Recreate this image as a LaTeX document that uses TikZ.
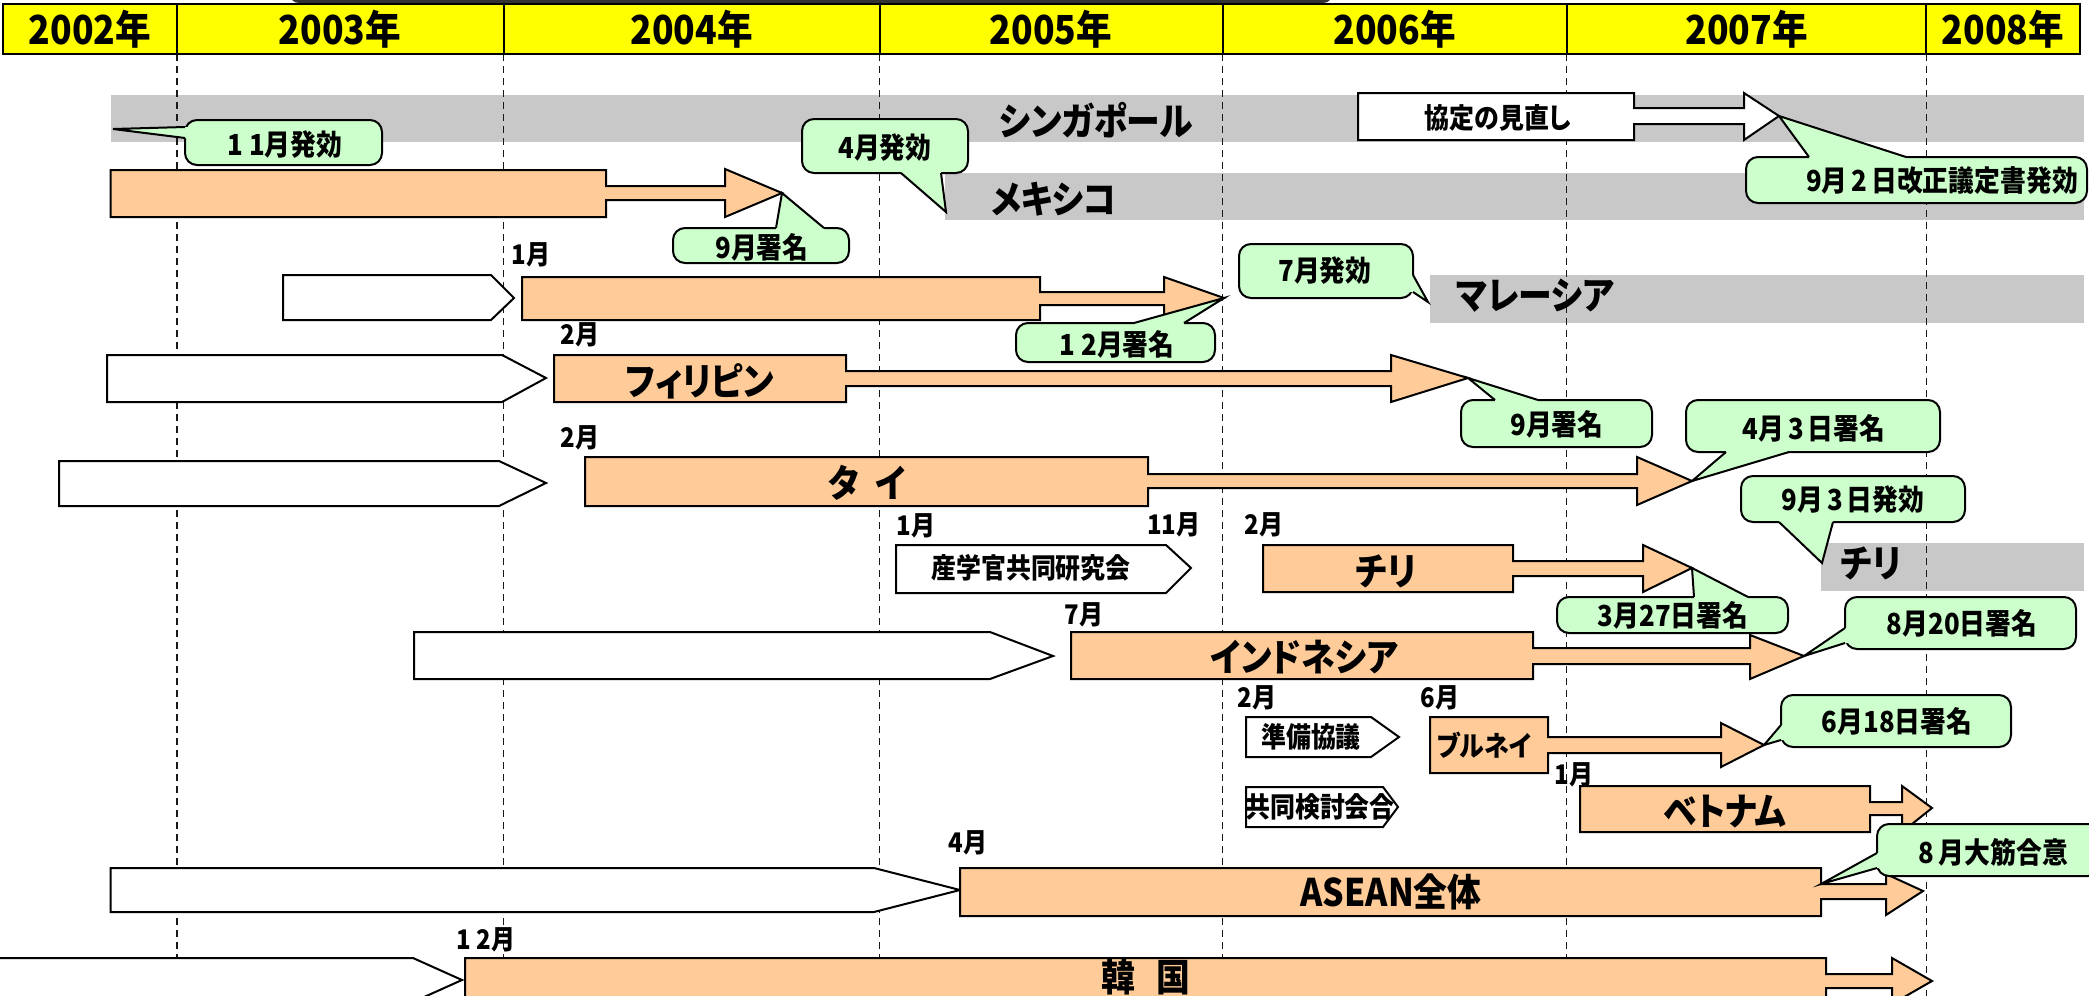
\documentclass[tikz,border=0pt]{standalone}
\usepackage{fontspec}
\setmainfont{Noto Sans CJK JP}[RawFeature=+palt, FakeStretch=0.89]
\definecolor{orng}{HTML}{FFCC99}
\definecolor{cgrn}{HTML}{CCFFCC}
\definecolor{bandgray}{HTML}{C8C8C8}
\definecolor{hdryel}{HTML}{FFFF00}
\tikzset{
  band/.style={fill=bandgray},
  vline/.style={line width=1.6pt, dash pattern=on 7pt off 5pt, black!90},
  oarr/.style={fill=orng, draw=black, line width=2pt, line join=miter},
  warr/.style={fill=white, draw=black, line width=2pt, line join=miter},
  cbox/.style={fill=cgrn, draw=black, line width=2pt, rounded corners=12pt},
  cfil/.style={fill=cgrn},
  cline/.style={draw=black, line width=2pt, line join=miter},
  ttl/.style={font=\fontsize{38}{40}\selectfont\bfseries, inner sep=0pt},
  yr/.style={font=\fontsize{40}{42}\selectfont\bfseries, inner sep=0pt},
  mon/.style={font=\fontsize{27}{29}\selectfont\bfseries, inner sep=0pt},
  ctxt/.style={font=\fontsize{29}{31}\selectfont\bfseries, inner sep=0pt},
  stxt/.style={font=\fontsize{28}{30}\selectfont\bfseries, inner sep=0pt},
}
\begin{document}
\begin{tikzpicture}[x=1pt,y=-1pt]
\useasboundingbox (0,0) rectangle (2089,996);
\fill[white] (0,0) rectangle (2089,996);
% gray bands
\fill[band] (110.5,95) rectangle (2084,142);
\fill[band] (945,173) rectangle (2084,220);
\fill[band] (1430,275) rectangle (2084,323);
\fill[band] (1821,543) rectangle (2084,591);
% dashed year lines
\foreach \xx in {177,503.6,879.5,1222.6,1566.5,1926.4}
  \draw[vline] (\xx,54) -- (\xx,996);
% band titles
\node[ttl] (sgp) at (1096,120) {シンガポール};
\node[ttl] (mex) at (1054,199) {メキシコ};
\node[ttl] (mys) at (1535,296) {マレーシア};
\node[ttl] (chl2) at (1871,563) {チリ};
% white pentagons
\draw[warr] (283,275) -- (491,275) -- (514,298) -- (491,320) -- (283,320) -- cycle;
\draw[warr] (107,355) -- (502,355) -- (546,378) -- (502,402) -- (107,402) -- cycle;
\draw[warr] (59,461) -- (499,461) -- (546,483) -- (499,506) -- (59,506) -- cycle;
\draw[warr] (896,545) -- (1166,545) -- (1191,568) -- (1166,593) -- (896,593) -- cycle;
\draw[warr] (414,632) -- (990,632) -- (1053,656) -- (990,679) -- (414,679) -- cycle;
\draw[warr] (1246,717) -- (1371,717) -- (1399,737) -- (1371,757) -- (1246,757) -- cycle;
\draw[warr] (1246,787) -- (1383,787) -- (1398,807) -- (1383,827) -- (1246,827) -- cycle;
\draw[warr] (110.5,868) -- (874,868) -- (960,890) -- (874,912) -- (110.5,912) -- cycle;
\draw[warr] (-10,958) -- (413,958) -- (462,980) -- (413,1002) -- (-10,1002) -- cycle;
% white block arrow (Singapore review)
\draw[warr] (1358,93) -- (1634,93) -- (1634,108) -- (1744,108) -- (1744,93) -- (1779,116) coordinate (sinTip) -- (1744,140) -- (1744,124) -- (1634,124) -- (1634,140) -- (1358,140) -- cycle;
% orange block arrows
\draw[oarr] (110.5,170) -- (606,170) -- (606,186) -- (725,186) -- (725,169) -- (782,193) coordinate (mexTip) -- (725,217) -- (725,200) -- (606,200) -- (606,217) -- (110.5,217) -- cycle;
\draw[oarr] (522,277) -- (1040,277) -- (1040,292) -- (1164,292) -- (1164,277) -- (1224,298) coordinate (malTip) -- (1164,322) -- (1164,305) -- (1040,305) -- (1040,320) -- (522,320) -- cycle;
\draw[oarr] (554,355) -- (846,355) -- (846,371) -- (1391,371) -- (1391,355) -- (1468,378) coordinate (phiTip) -- (1391,402) -- (1391,386) -- (846,386) -- (846,402) -- (554,402) -- cycle;
\draw[oarr] (585,457) -- (1148,457) -- (1148,474) -- (1637,474) -- (1637,457) -- (1692,481) coordinate (thaTip) -- (1637,505) -- (1637,488) -- (1148,488) -- (1148,506) -- (585,506) -- cycle;
\draw[oarr] (1263,545) -- (1513,545) -- (1513,561) -- (1643,561) -- (1643,545) -- (1692,568) coordinate (chiTip) -- (1643,592) -- (1643,576) -- (1513,576) -- (1513,592) -- (1263,592) -- cycle;
\draw[oarr] (1071,632) -- (1533,632) -- (1533,648) -- (1750,648) -- (1750,635) -- (1804,656) coordinate (indTip) -- (1750,679) -- (1750,664) -- (1533,664) -- (1533,679) -- (1071,679) -- cycle;
\draw[oarr] (1430,717) -- (1548,717) -- (1548,737) -- (1721,737) -- (1721,723) -- (1764,745) coordinate (bruTip) -- (1721,767) -- (1721,753) -- (1548,753) -- (1548,773) -- (1430,773) -- cycle;
\draw[oarr] (1580,786) -- (1870,786) -- (1870,802) -- (1902,802) -- (1902,786) -- (1932,808) coordinate (vieTip) -- (1902,832) -- (1902,815) -- (1870,815) -- (1870,832) -- (1580,832) -- cycle;
\draw[oarr] (960,868) -- (1821,868) -- (1821,884) coordinate (aseCorner) -- (1886,884) -- (1886,874) -- (1923,891) coordinate (aseTip) -- (1886,915) -- (1886,899) -- (1821,899) -- (1821,916) -- (960,916) -- cycle;
\draw[oarr] (465,958) -- (1826,958) -- (1826,974) -- (1892,974) -- (1892,958) -- (1932,981) coordinate (korTip) -- (1892,1004) -- (1892,988) -- (1826,988) -- (1826,1010) -- (465,1010) -- cycle;
% texts in arrows
\node[stxt] (rev) at (1498,118) {協定の見直し};
\node[ttl] (phl) at (700,381) {フィリピン};
\node[ttl] (tha) at (867,483) {タ\hspace{16pt}イ};
\node[stxt] (iag) at (1031,568) {産学官共同研究会};
\node[ttl] (chl) at (1386,571) {チリ};
\node[ttl] (idn) at (1304,657) {インドネシア};
\node[stxt] (prep) at (1311,737) {準備協議};
\node[stxt] (joint) at (1320,807) {共同検討会合};
\node[stxt] (brn) at (1484,745) {ブルネイ};
\node[ttl] (vnm) at (1725,812) {ベトナム};
\node[ttl] (asean) at (1391,892) {ASEAN全体};
\node[ttl] (kor) at (1146,977) {韓\hspace{22pt}国};
% callouts
% C1
\draw[cbox] (185,120) rectangle (382,165);
\fill[cfil] (189,127) -- (185,127) -- (113,129) -- (185,138) -- (189,138) -- cycle;
\draw[cline] (185,127) -- (113,129) -- (185,138);
\node[ctxt] (c1) at (285,145) {1\kern6pt 1月発効};
% C2
\draw[cbox] (802,119) rectangle (968,173);
\fill[cfil] (901,169) -- (901,173) -- (946,212) -- (941,173) -- (941,169) -- cycle;
\draw[cline] (901,173) -- (946,212) -- (941,173);
\node[ctxt] (c2) at (885,148) {4月発効};
% C3
\draw[cbox] (673,228) rectangle (849,263);
\fill[cfil] (776,232) -- (776,228) -- (mexTip) -- (824,228) -- (824,232) -- cycle;
\draw[cline] (776,228) -- (mexTip) -- (824,228);
\node[ctxt] (c3) at (762,247) {9月署名};
% C4
\draw[cbox] (1016,323) rectangle (1215,362);
\fill[cfil] (1134,327) -- (1134,323) -- (malTip) -- (1184,323) -- (1184,327) -- cycle;
\draw[cline] (1134,323) -- (malTip) -- (1184,323);
\node[ctxt] (c4) at (1117,344) {1\kern6pt 2月署名};
% C5
\draw[cbox] (1239,244) rectangle (1413,298);
\fill[cfil] (1409,275) -- (1413,275) -- (1428,302) -- (1413,292) -- (1409,292) -- cycle;
\draw[cline] (1413,275) -- (1428,302) -- (1413,292);
\node[ctxt] (c5) at (1325,271) {7月発効};
% C6
\draw[cbox] (1461,400) rectangle (1652,447);
\fill[cfil] (1495,404) -- (1495,400) -- (phiTip) -- (1538,400) -- (1538,404) -- cycle;
\draw[cline] (1495,400) -- (phiTip) -- (1538,400);
\node[ctxt] (c6) at (1557,424) {9月署名};
% C7
\draw[cbox] (1686,400) rectangle (1940,452);
\fill[cfil] (1726,448) -- (1726,452) -- (thaTip) -- (1789,452) -- (1789,448) -- cycle;
\draw[cline] (1726,452) -- (thaTip) -- (1789,452);
\node[ctxt] (c7) at (1814,428) {4月\kern4pt 3\kern4pt 日署名};
% C8
\draw[cbox] (1741,476) rectangle (1965,522);
\fill[cfil] (1779,518) -- (1779,522) -- (1822,563) -- (1833,522) -- (1833,518) -- cycle;
\draw[cline] (1779,522) -- (1822,563) -- (1833,522);
\node[ctxt] (c8) at (1853,500) {9月\kern4pt 3\kern4pt 日発効};
% C9
\draw[cbox] (1557,597) rectangle (1788,633);
\fill[cfil] (1694,601) -- (1694,597) -- (chiTip) -- (1748,597) -- (1748,601) -- cycle;
\draw[cline] (1694,597) -- (chiTip) -- (1748,597);
\node[ctxt] (c9) at (1673,615) {3月27日署名};
% C10
\draw[cbox] (1845,597) rectangle (2076,649);
\fill[cfil] (1849,628) -- (1845,628) -- (indTip) -- (1845,643) -- (1849,643) -- cycle;
\draw[cline] (1845,628) -- (indTip) -- (1845,643);
\node[ctxt] (c10) at (1962,623) {8月20日署名};
% C11
\draw[cbox] (1781,695) rectangle (2011,747);
\fill[cfil] (1785,725) -- (1781,725) -- (bruTip) -- (1781,740) -- (1785,740) -- cycle;
\draw[cline] (1781,725) -- (bruTip) -- (1781,740);
\node[ctxt] (c11) at (1897,721) {6月18日署名};
% C12
\draw[cbox] (1877,824) rectangle (2100,876);
\fill[cfil] (1881,853) -- (1877,853) -- (aseCorner) -- (1877,868) -- (1881,868) -- cycle;
\draw[cline] (1877,853) -- (aseCorner) -- (1877,868);
\node[ctxt] (c12) at (1993,852) {8\kern5pt 月大筋合意};
% C13
\draw[cbox] (1746,157) rectangle (2087,203);
\fill[cfil] (1809,161) -- (1809,157) -- (sinTip) -- (1906,157) -- (1906,161) -- cycle;
\draw[cline] (1809,157) -- (sinTip) -- (1906,157);
\node[ctxt] (c13) at (1942,181) {9月\kern4pt 2\kern4pt 日改正議定書発効};
% month labels
\node[mon] (m1) at (531,255) {1月};
\node[mon] (m2) at (580,335) {2月};
\node[mon] (m3) at (580,438) {2月};
\node[mon] (m4) at (916,526) {1月};
\node[mon] (m5) at (1174,525) {11月};
\node[mon] (m6) at (1264,525) {2月};
\node[mon] (m7) at (1084,615) {7月};
\node[mon] (m8) at (1257,698) {2月};
\node[mon] (m9) at (1440,698) {6月};
\node[mon] (m10) at (1574,775) {1月};
\node[mon] (m11) at (968,843) {4月};
\node[mon] (m12) at (486,940) {1\kern5pt 2月};
% header
\draw[line width=3pt, black!80, rounded corners=8pt] (291,-20) -- (291,1.5) -- (1331,1.5) -- (1331,-20);
\draw[fill=hdryel, line width=2pt] (3,4) rectangle (2080,54);
\foreach \xx in {177,503.6,879.5,1222.6,1566.5,1926.4}
  \draw[line width=2pt] (\xx,4) -- (\xx,54);
\node[yr] (y2) at (90,29) {2002年};
\node[yr] (y3) at (340,29) {2003年};
\node[yr] (y4) at (691.5,29) {2004年};
\node[yr] (y5) at (1051,29) {2005年};
\node[yr] (y6) at (1394.5,29) {2006年};
\node[yr] (y7) at (1746.5,29) {2007年};
\node[yr] (y8) at (2003,29) {2008年};
\end{tikzpicture}
\end{document}
